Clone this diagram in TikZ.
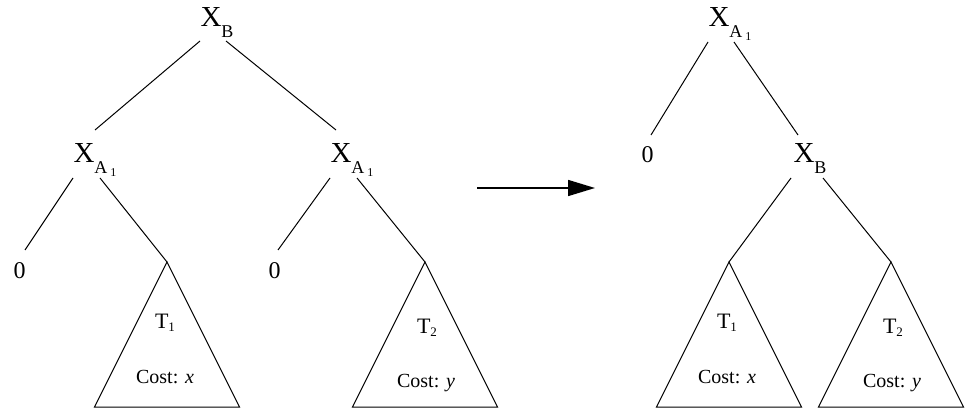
\documentclass[tikz,border=0pt]{standalone}
\usepackage{fontspec}
\setmainfont{Liberation Serif}
\usetikzlibrary{arrows.meta}

\newcommand{\xsub}[1]{{\fontsize{29}{29}\selectfont X}\raisebox{-11pt}{\fontsize{18}{18}\selectfont #1}}
\newcommand{\asub}{A\,\raisebox{-3pt}{\fontsize{12}{12}\selectfont 1}}
\newcommand{\tsub}[1]{{\fontsize{22}{22}\selectfont T}\raisebox{-3pt}{\fontsize{13}{13}\selectfont #1}}

\begin{document}
\begin{tikzpicture}[x=1pt,y=-1pt,line width=1pt,>={Triangle[length=27pt,width=16pt]},
  lbl/.style={anchor=base west,inner sep=0pt},
  leaf/.style={anchor=base west,inner sep=0pt,font=\fontsize{24}{24}\selectfont},
  sub/.style={anchor=base,inner sep=0pt},
  cost/.style={anchor=base,inner sep=0pt,font=\fontsize{20}{20}\selectfont}]
\useasboundingbox (0,0) rectangle (972,414);
% before
\node[lbl] (xb) at (200,27) {\xsub{B}};
\node[lbl] (xal) at (73,163) {\xsub{\asub}};
\node[lbl] (xar) at (330,163) {\xsub{\asub}};
\node[leaf] (zl) at (13,278) {0};
\node[leaf] (zr) at (268,278) {0};
\coordinate (t1l) at (167,262);
\coordinate (t2l) at (425,262);
\draw (t1l) -- ++(-72.5,145) -- ++(145,0) -- cycle;
\draw (t2l) -- ++(-72.5,145) -- ++(145,0) -- cycle;
\node[sub] (n1l) at ([shift={(-2,66)}]t1l) {\tsub{1}};
\node[cost] (c1l) at ([shift={(-2,121)}]t1l) {Cost: \textit{x}};
\node[sub] (n2l) at ([shift={(2,71)}]t2l) {\tsub{2}};
\node[cost] (c2l) at ([shift={(1,125)}]t2l) {Cost: \textit{y}};
\draw ([shift={(0,14)}]xb.base west) -- ([shift={(22,-33)}]xal.base west);
\draw ([shift={(26,14)}]xb.base west) -- ([shift={(6,-33)}]xar.base west);
\draw ([shift={(0,15)}]xal.base west) -- ([shift={(12,-28)}]zl.base west);
\draw ([shift={(27,15)}]xal.base west) -- (t1l);
\draw ([shift={(0,15)}]xar.base west) -- ([shift={(10,-28)}]zr.base west);
\draw ([shift={(27,15)}]xar.base west) -- (t2l);
% rotation
\coordinate (a0) at (477,188);
\coordinate (a1) at (595,188);
\draw[->,line width=1.6pt] (a0) -- (a1);
% after
\node[lbl] (xa) at (708,27) {\xsub{\asub}};
\node[leaf] (z) at (641,163) {0};
\node[lbl] (xb2) at (793,163) {\xsub{B}};
\coordinate (t1r) at (729,262);
\coordinate (t2r) at (891,262);
\draw (t1r) -- ++(-72.5,145) -- ++(145,0) -- cycle;
\draw (t2r) -- ++(-72.5,145) -- ++(145,0) -- cycle;
\node[sub] (n1r) at ([shift={(-2,66)}]t1r) {\tsub{1}};
\node[cost] (c1r) at ([shift={(-2,121)}]t1r) {Cost: \textit{x}};
\node[sub] (n2r) at ([shift={(2,71)}]t2r) {\tsub{2}};
\node[cost] (c2r) at ([shift={(1,125)}]t2r) {Cost: \textit{y}};
\draw ([shift={(0,15)}]xa.base west) -- ([shift={(10,-28)}]z.base west);
\draw ([shift={(26,15)}]xa.base west) -- ([shift={(5,-28)}]xb2.base west);
\draw ([shift={(-2,15)}]xb2.base west) -- (t1r);
\draw ([shift={(30,15)}]xb2.base west) -- (t2r);
\end{tikzpicture}
\end{document}
